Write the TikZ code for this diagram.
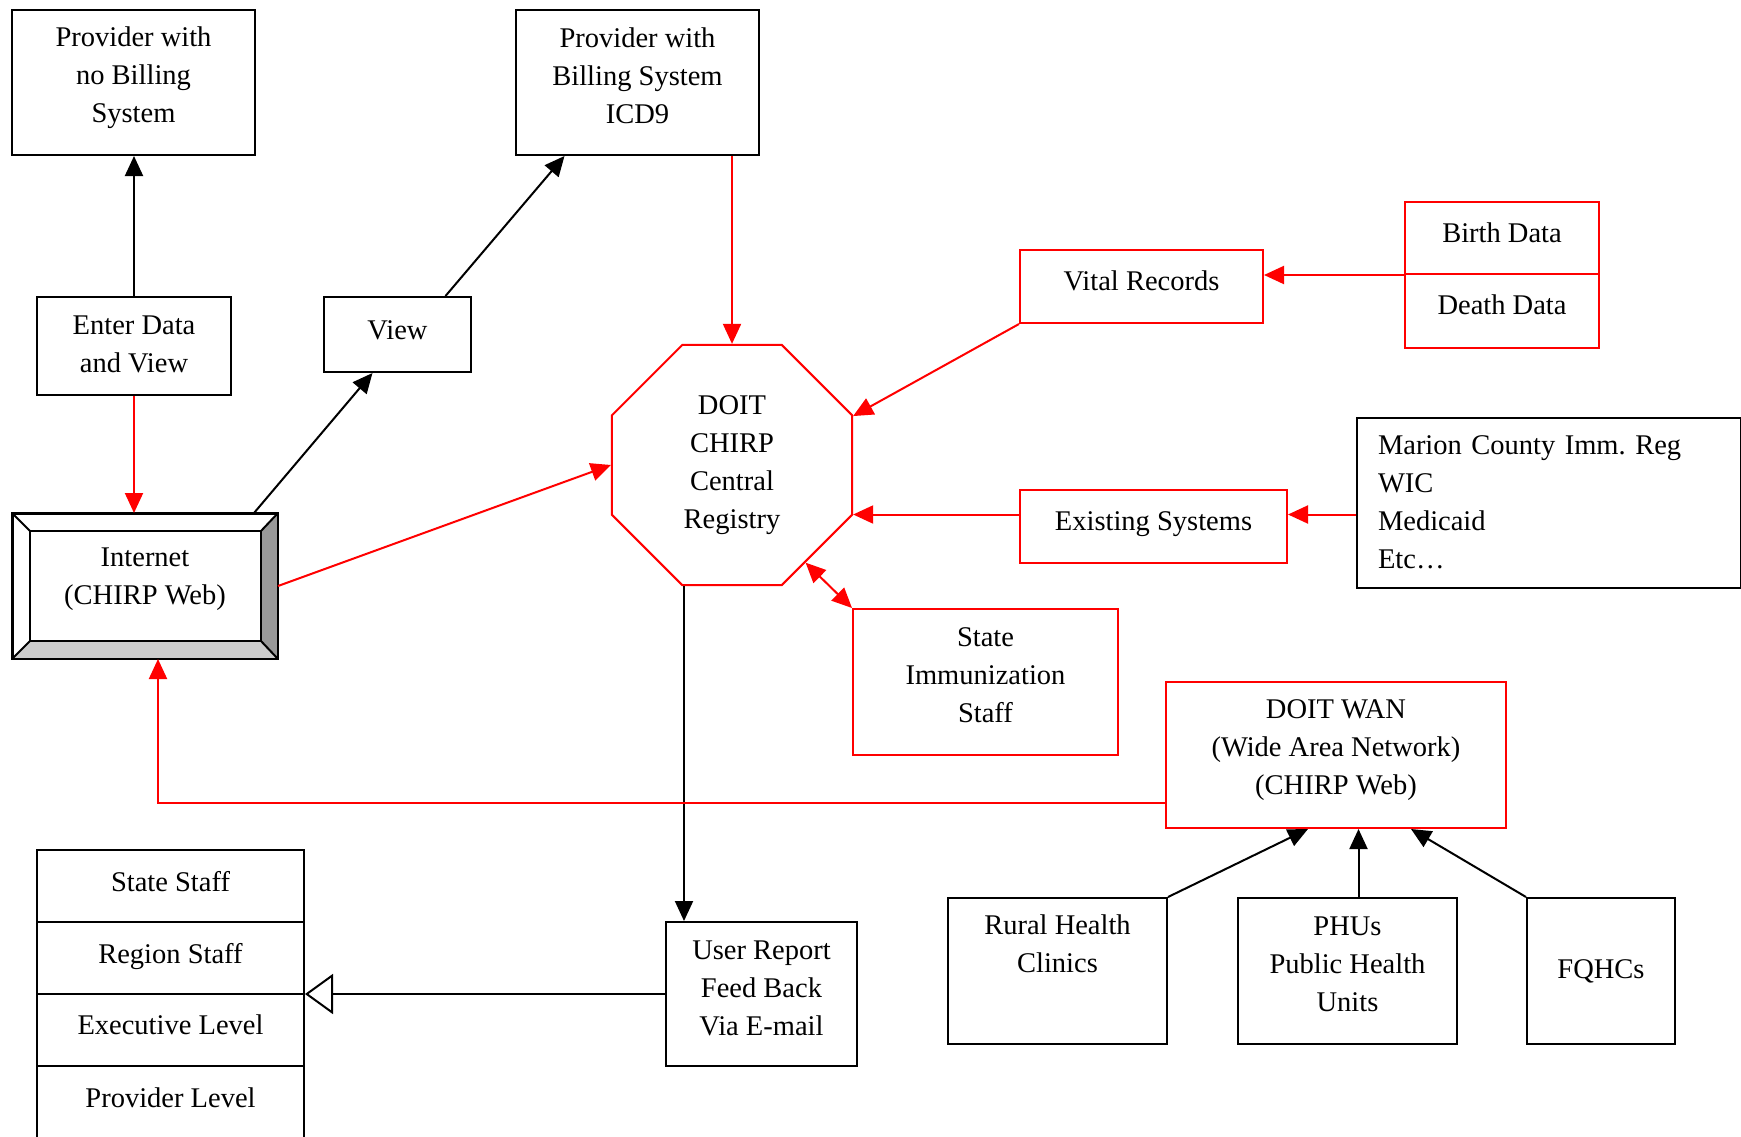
\documentclass[tikz,border=0pt]{standalone}
\usepackage{fontspec}
\setmainfont{Liberation Serif}
\frenchspacing
\usetikzlibrary{arrows.meta,positioning,shapes.geometric}
\definecolor{bevdark}{HTML}{999999}
\definecolor{bevlight}{HTML}{CCCCCC}
\tikzset{>={Triangle[length=20pt,width=18pt]}}
\tikzset{
  box/.style={draw=black, line width=2pt, inner sep=0pt, anchor=north west,
    align=center, font=\fontsize{28.5}{38}\selectfont,
    execute at end node={\rule[-#1]{0pt}{#1}}},
  box/.default=12pt,
  redbox/.style={box=#1, draw=red},
  redbox/.default=12pt,
  link/.style={->, line width=2pt, black},
  redlink/.style={->, line width=2pt, red},
  openlink/.style={-{Triangle[open,length=28pt,width=40pt]}, line width=2pt, black},
}
\begin{document}
\begin{tikzpicture}[x=1pt,y=-1pt]
  \useasboundingbox (0,0) rectangle (1741,1136);

  % Nodes
  \node[box=15pt, minimum width=243pt, minimum height=145pt] (prov1) at (11,9) {Provider with\\no Billing\\System};
  \node[box=13pt, minimum width=243pt, minimum height=145pt] (prov2) at (515,9) {Provider with\\Billing System\\ICD9};
  \node[box=4pt, minimum width=194pt, minimum height=98pt]  (enter) at (36,296) {Enter Data\\and View};
  \node[box=9pt, minimum width=147pt, minimum height=75pt]  (view)  at (323,296) {View};
  \node[box=19pt, minimum width=264pt, minimum height=144pt] (inet)  at (12,513) {Internet\\(CHIRP Web)};
  \node[draw=red, line width=2pt, regular polygon, regular polygon sides=8, minimum size=260pt,
    inner sep=0pt, align=center, font=\fontsize{28.5}{38}\selectfont] (oct) at (732,465) {DOIT\\CHIRP\\Central\\Registry};
  \node[redbox=11pt, minimum width=243pt, minimum height=73pt] (vital) at (1019,249) {Vital Records};
  \node[redbox=11pt, minimum width=194pt, minimum height=72pt] (birth) at (1404,201) {Birth Data};
  \node[redbox=13pt, minimum width=194pt, minimum height=74pt, below=-2pt of birth] (death) {Death Data};
  \node[redbox=10pt, minimum width=267pt, minimum height=73pt] (exist) at (1019,489) {Existing Systems};
  \node[box=1pt, minimum width=384pt, minimum height=170pt, align=left, text width=342pt] (marion) at (1356,417)
    {Marion County Imm. Reg\\WIC\\Medicaid\\Etc…};
  \node[redbox=14pt, minimum width=265pt, minimum height=146pt] (stimm) at (852,608) {State\\Immunization\\Staff};
  \node[redbox=15pt, minimum width=340pt, minimum height=146pt] (wan) at (1165,681) {DOIT WAN\\(Wide Area Network)\\(CHIRP Web)};
  \node[box=16pt, minimum width=219pt, minimum height=146pt] (rural) at (947,897) {Rural Health\\Clinics\\~};
  \node[box=14pt, minimum width=219pt, minimum height=146pt] (phu)   at (1237,897) {PHUs\\Public Health\\Units};
  \node[box=4pt, minimum width=148pt, minimum height=146pt] (fqhc)  at (1526,897) {FQHCs};
  \node[box=12pt, minimum width=191pt, minimum height=144pt] (user)  at (665,921) {User Report\\Feed Back\\Via E-mail};
  \node[box=10pt, minimum width=267pt, minimum height=72pt] (lvl1) at (36,849) {State Staff};
  \node[box=10pt, minimum width=267pt, minimum height=72pt, below=-2pt of lvl1] (lvl2) {Region Staff};
  \node[box=10pt, minimum width=267pt, minimum height=72pt, below=-2pt of lvl2] (lvl3) {Executive Level};
  \node[box=10pt, minimum width=267pt, minimum height=74pt, below=-2pt of lvl3] (lvl4) {Provider Level};

  % Bevel of the internet box
  \fill[bevdark] (inet.north east) -- ([shift={(-17pt,-18pt)}]inet.north east)
    -- ([shift={(-17pt,18pt)}]inet.south east) -- (inet.south east) -- cycle;
  \fill[bevlight] (inet.south west) -- ([shift={(18pt,18pt)}]inet.south west)
    -- ([shift={(-17pt,18pt)}]inet.south east) -- (inet.south east) -- cycle;
  \draw[line width=2pt] ([shift={(18pt,-18pt)}]inet.north west) rectangle ([shift={(-17pt,18pt)}]inet.south east);
  \foreach \c/\dx/\dy in {north west/18/-18, north east/-17/-18, south west/18/18, south east/-17/18}
    \draw[line width=2pt] (inet.\c) -- ([shift={(\dx pt,\dy pt)}]inet.\c);
  \draw[line width=2pt] (inet.north west) rectangle (inet.south east);

  % Helper points
  \coordinate (exin) at ([yshift=12pt]exist.east);
  \coordinate (exout) at ([yshift=12pt]exist.west);
  \coordinate (octs) at ([xshift=-48pt]oct.south);
  \coordinate (phun) at ([xshift=11pt]phu.north);

  % Edges
  \draw[link] (enter.north) -- (enter.north |- prov1.south);
  \draw[redlink] (enter.south) -- (enter.south |- inet.north);
  \draw[link] ([xshift=109pt]inet.north) -- ([xshift=-25pt]view.south);
  \draw[link] ([xshift=48pt]view.north) -- ([xshift=-73pt]prov2.south);
  \draw[redlink] (oct.north |- prov2.south) -- (oct.north);
  \draw[redlink] (inet.east) -- (oct.west);
  \draw[redlink] (vital.south west) -- (oct.22.5);
  \draw[redlink] (birth.south west) -- (birth.south west -| vital.east);
  \draw[redlink] (exout) -- (exout -| oct.east);
  \draw[redlink] (exin -| marion.west) -- (exin);
  \draw[redlink, <->] (stimm.north west) -- (oct.-53);
  \draw[link] (octs) -- (octs |- user.north);
  \draw[openlink] (user.west) -- (user.west -| lvl2.east);
  \draw[redlink] ([yshift=-48pt]wan.west) -| ([xshift=13pt]inet.south);
  \draw[link] (rural.north east) -- ([xshift=-28pt]wan.south);
  \draw[link] (phun) -- (phun |- wan.south);
  \draw[link] (fqhc.north west) -- ([xshift=75pt]wan.south);
\end{tikzpicture}
\end{document}
